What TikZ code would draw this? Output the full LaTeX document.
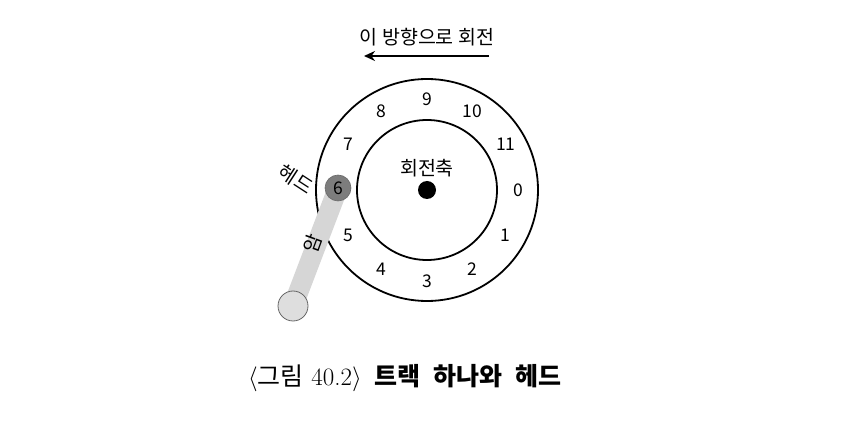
\documentclass[tikz,border=0pt]{standalone}
\usepackage{fontspec}
\newfontfamily\kr{Noto Sans CJK KR}
\usetikzlibrary{arrows.meta,calc}
\definecolor{armgray}{RGB}{214,214,214}
\definecolor{headgray}{RGB}{125,125,125}
\definecolor{basegray}{RGB}{222,222,222}
\tikzset{
  track/.style={line width=1.8pt, draw=black},
  numlabel/.style={font=\kr\fontsize{17.5}{17.5}\selectfont, inner sep=0pt},
  lbl/.style={font=\kr\fontsize{19.5}{19.5}\selectfont, inner sep=0pt},
  headnode/.style={circle, fill=headgray, draw=headgray!85!black, line width=0.6pt, minimum size=26pt, inner sep=0pt, font=\kr\fontsize{17.5}{17.5}\selectfont},
  basenode/.style={circle, fill=basegray, draw=black!60, line width=0.8pt, minimum size=30pt, inner sep=0pt},
  spindle/.style={circle, fill=black, minimum size=18pt, inner sep=0pt},
  armline/.style={line width=20pt, draw=armgray},
  rotarrow/.style={line width=2.6pt, -{Stealth[length=11pt,width=10pt]}},
}
\begin{document}
\begin{tikzpicture}[x=1pt,y=-1pt]
\useasboundingbox (0,0) rectangle (860,430);
\coordinate (c) at (427,190);
\draw[track] (c) circle (111);
\draw[track] (c) circle (70);
\node[spindle] (sp) at (c) {};
\node[lbl] (axis) at (427,168) {회전축};
% numbers
\foreach \k in {0,1,2,3,4,5,7,8,9,10,11} {
  \node[numlabel] (n\k) at ($(c)+(30*\k:91)$) {\k};
}
% arm
\coordinate (h) at (338,188);
\coordinate (b) at (293,306);
\draw[armline] (h) -- (b);
\node[basenode] (base) at (b) {};
\node[headnode] (head) at (h) {6};
\node[lbl, rotate=-33] (headlbl) at (296,179) {헤드};
\node[lbl, rotate=70] (armlbl) at (313,244) {암};
% rotation direction
\node[lbl] (dir) at (427,37) {이 방향으로 회전};
\coordinate (ar1) at (489,56);
\coordinate (ar2) at (364,56);
\draw[rotarrow] (ar1) -- (ar2);
% caption
\node[inner sep=0pt, font=\fontsize{25}{25}\selectfont] (cap) at (405,378)
  {$\langle${\kr 그림} 40.2$\rangle$\hspace{0.5em}{\kr\bfseries 트랙\hspace{0.3em} 하나와\hspace{0.3em} 헤드}};
\end{tikzpicture}
\end{document}
